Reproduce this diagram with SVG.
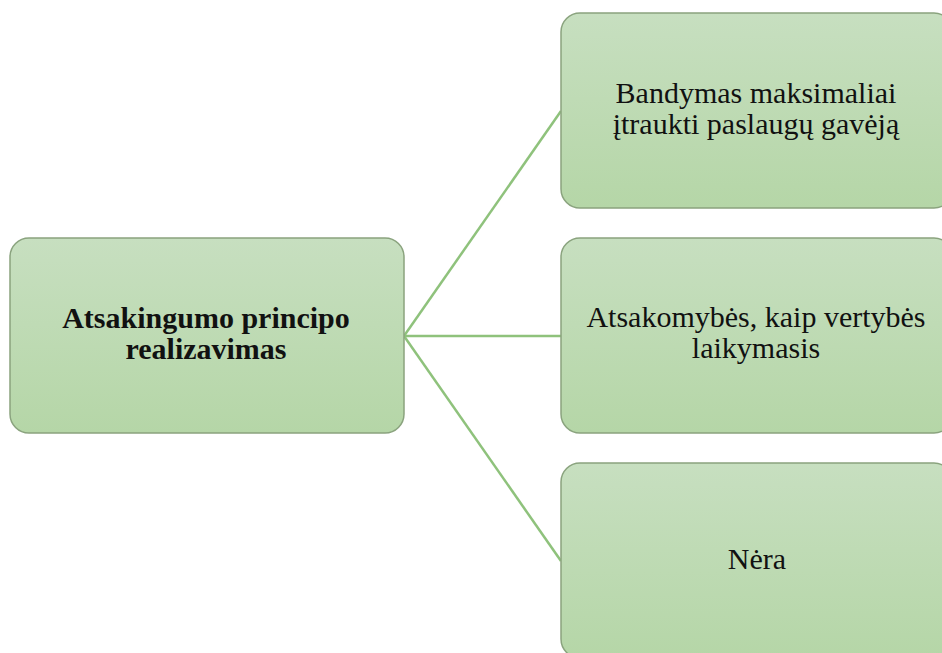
<svg xmlns="http://www.w3.org/2000/svg" width="942" height="653" viewBox="0 0 942 653">
<defs>
<linearGradient id="g" x1="0" y1="0" x2="0" y2="1">
<stop offset="0" stop-color="#c7dfc0"/>
<stop offset="1" stop-color="#b5d6a7"/>
</linearGradient>
<style>
.box{fill:url(#g);stroke:#8aa37e;stroke-width:1.5}
.conn{stroke:#8fc27c;stroke-width:2.5;fill:none}
.t{font-family:"Liberation Serif","Times New Roman",serif;font-size:30px;fill:#111;text-anchor:middle}
.b{font-weight:bold}
</style>
</defs>
<rect width="942" height="653" fill="#ffffff"/>
<g id="connectors">
<line class="conn" x1="404" y1="336" x2="561" y2="111"/>
<line class="conn" x1="404" y1="336" x2="561" y2="336"/>
<line class="conn" x1="404" y1="336" x2="561" y2="561"/>
</g>
<g id="root">
<rect class="box" x="10" y="238" width="394" height="195" rx="19"/>
<text class="t b" x="206" y="328">Atsakingumo principo</text>
<text class="t b" x="206" y="359">realizavimas</text>
</g>
<g id="child1">
<rect class="box" x="561" y="13" width="392" height="195" rx="19"/>
<text class="t" x="756" y="103">Bandymas maksimaliai</text>
<text class="t" x="756" y="134">įtraukti paslaugų gavėją</text>
</g>
<g id="child2">
<rect class="box" x="561" y="238" width="392" height="195" rx="19"/>
<text class="t" x="756" y="327">Atsakomybės, kaip vertybės</text>
<text class="t" x="756" y="358">laikymasis</text>
</g>
<g id="child3">
<rect class="box" x="561" y="463" width="392" height="195" rx="19"/>
<text class="t" x="757" y="569">Nėra</text>
</g>
</svg>
